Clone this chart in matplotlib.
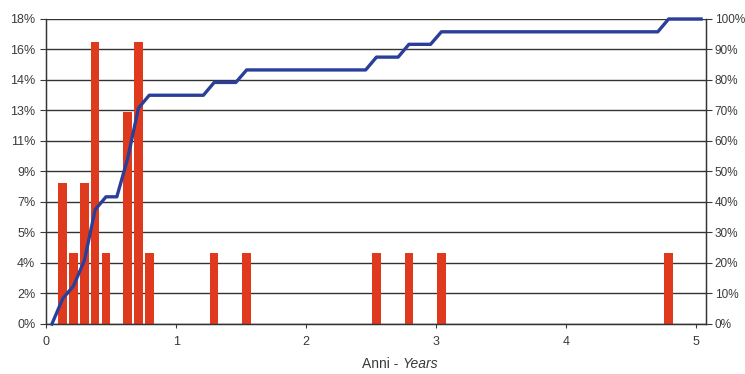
import matplotlib
matplotlib.use("Agg")
import matplotlib.pyplot as plt

# histogram: month index of each bar and its share of cases (%)
bar_months = [1, 2, 3, 4, 5, 7, 8, 9, 15, 18, 30, 33, 36, 57]
bar_pct = [8.33, 4.17, 8.33, 16.67, 4.17, 12.5, 16.67, 4.17,
           4.17, 4.17, 4.17, 4.17, 4.17, 4.17]

# cumulative curve (right axis): month index -> cumulative share (%)
cum_months = [0, 1, 2, 3, 4, 5, 6, 7, 8, 9, 14, 15, 17, 18,
              29, 30, 32, 33, 35, 36, 56, 57, 60]
cum_pct = [0, 8.3, 12.5, 20.8, 37.5, 41.7, 41.7, 54.2, 70.8, 75.0, 75.0, 79.2,
           79.2, 83.3, 83.3, 87.5, 87.5, 91.7, 91.7, 95.8, 95.8, 100, 100]

left_ticks = [0, 1.8, 3.6, 5.4, 7.2, 9.0, 10.8, 12.6, 14.4, 16.2, 18.0]
left_labels = ["0%", "2%", "4%", "5%", "7%", "9%", "11%", "13%", "14%", "16%", "18%"]
right_ticks = [0, 10, 20, 30, 40, 50, 60, 70, 80, 90, 100]
year_ticks = [0, 1, 2, 3, 4, 5]

plt.rcParams['font.family'] = ['Liberation Sans', 'DejaVu Sans']
txt = '#3a3a3a'

fig = plt.figure(figsize=(7.45, 3.74), dpi=100)
ax = fig.add_axes([0.0624, 0.1337, 0.8859, 0.8155])

# bars centred in their monthly bin
xb = [(m + 0.5) / 12 for m in bar_months]
ax.bar(xb, bar_pct, width=0.066, color='#e03a1e', zorder=2)

ax.set_xlim(0, 61 / 12)
ax.set_ylim(0, 18)
ax.set_yticks(left_ticks)
ax.set_yticklabels(left_labels)
ax.set_xticks(year_ticks)
ax.set_axisbelow(True)
ax.grid(axis='y', color='#333333', linewidth=1.0)
ax.tick_params(axis='y', direction='out', length=4, width=0.8, pad=4, labelsize=9, colors=txt)
ax.tick_params(axis='x', direction='out', length=3, width=0.8, pad=6, labelsize=9, colors=txt)
for s in ax.spines.values():
    s.set_color('#333333')
    s.set_linewidth(0.9)
ax.spines['top'].set_visible(False)

ax2 = ax.twinx()
xc = [(m + 0.5) / 12 for m in cum_months]
ax2.plot(xc, cum_pct, color='#2a3f9a', linewidth=2.4, clip_on=False, zorder=3)
ax2.set_ylim(0, 100)
ax2.set_yticks(right_ticks)
ax2.set_yticklabels([f"{t}%" for t in right_ticks])
ax2.tick_params(axis='y', direction='out', length=4, width=0.8, pad=2, labelsize=8.5, colors=txt)
for s in ax2.spines.values():
    s.set_color('#333333')
    s.set_linewidth(0.9)
ax2.spines['top'].set_visible(False)

fig.text(0.54, 0.008, "Anni - ", ha='right', va='bottom', fontsize=10, color=txt)
fig.text(0.54, 0.008, "Years", ha='left', va='bottom', fontsize=10, color=txt, style='italic')

fig.savefig("out.png", dpi=100)
